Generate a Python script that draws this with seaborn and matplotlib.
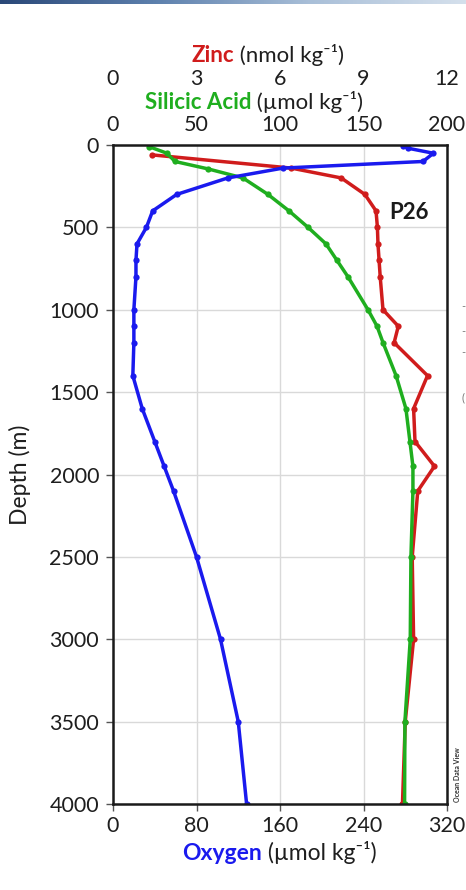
import matplotlib
matplotlib.use("Agg")
import matplotlib.pyplot as plt
import numpy as np
import seaborn as sns
from matplotlib.colors import LinearSegmentedColormap
from matplotlib.offsetbox import TextArea, HPacker, AnchoredOffsetbox

# ---- Station P26 profiles -------------------------------------------------
oxy_depth = [5, 20, 50, 100, 140, 200, 300, 400, 500, 600, 700, 800, 1000,
             1100, 1200, 1400, 1600, 1800, 1950, 2100, 2500, 3000, 3500, 4000]
oxygen = [278, 283, 307, 297, 163, 110, 61, 38, 32, 23, 22, 22, 20,
          20, 20, 19, 28, 40, 49, 58, 80, 103, 120, 128]

si_depth = [10, 50, 100, 145, 200, 300, 400, 500, 600, 700, 800, 1000,
            1100, 1200, 1400, 1600, 1800, 1950, 2100, 2500, 3000, 3500, 4000]
silicic = [21.6, 32.3, 37.1, 56.9, 77.8, 92.8, 105.4, 116.8, 127.5, 134.1,
           140.7, 152.7, 158.1, 161.7, 169.5, 175.4, 177.8, 179.6, 179.6,
           178.4, 178.0, 174.8, 174.6]

zn_depth = [60, 140, 200, 300, 400, 500, 600, 700, 800, 1000, 1100, 1200,
            1400, 1600, 1800, 1950, 2100, 2500, 3000, 3500, 4000]
zinc = [1.4, 6.4, 8.2, 9.05, 9.45, 9.5, 9.52, 9.56, 9.6, 9.7, 10.25, 10.1,
        11.3, 10.8, 10.85, 11.55, 10.95, 10.75, 10.8, 10.5, 10.4]

depth_ticks = [0, 500, 1000, 1500, 2000, 2500, 3000, 3500, 4000]
oxy_ticks = [0, 80, 160, 240, 320]
si_ticks = [0, 50, 100, 150, 200]
zn_ticks = [0, 3, 6, 9, 12]

station = "P26"

RED = "#d01c1c"
GREEN = "#1fae1f"
BLUE = "#1a1aee"
INK = "#1e1e1e"

sns.set_style("white")
plt.rcParams["font.family"] = ["Lato", "DejaVu Sans"]

W, H = 466, 890
fig = plt.figure(figsize=(W / 100, H / 100), dpi=100)
fig.patch.set_facecolor("white")


def fx(px):
    return px / W


def fy(py):
    return 1 - py / H


# slide header strip
strip = fig.add_axes([0, fy(4), 1, 4 / H])
strip_cmap = LinearSegmentedColormap.from_list(
    "strip", ["#2a4878", "#5d80ad", "#a9bfd8", "#d5e0ec"])
strip.imshow(np.linspace(0, 1, 256)[None, :], aspect="auto", cmap=strip_cmap)
strip.set_axis_off()

# three x scales sharing one depth axis
ax_zn = fig.add_axes([fx(113), fy(804), (447 - 113) / W, (804 - 145) / H])
ax_si = ax_zn.twiny()
ax_o2 = ax_zn.twiny()
ax_zn.set_zorder(1)
ax_si.set_zorder(2)
ax_o2.set_zorder(3)
ax_zn.patch.set_facecolor("white")
ax_si.patch.set_visible(False)
ax_o2.patch.set_visible(False)

line_kw = dict(marker="o", markersize=4.5, markeredgewidth=0, linewidth=2.5,
               sort=False, estimator=None, orient="y")
sns.lineplot(x=zinc, y=zn_depth, color=RED, ax=ax_zn, **line_kw)
sns.lineplot(x=silicic, y=si_depth, color=GREEN, ax=ax_si, **line_kw)
sns.lineplot(x=oxygen, y=oxy_depth, color=BLUE, ax=ax_o2, **line_kw)

ax_zn.set_xlim(0, 12)
ax_si.set_xlim(0, 200)
ax_o2.set_xlim(0, 320)
ax_zn.set_ylim(4000, 0)
for a in (ax_zn, ax_si, ax_o2):
    a.set_xlabel("")
    a.set_ylabel("")

tick_font = dict(fontsize=15.5, color=INK)

# depth axis + grid on the bottom-most axes
ax_zn.set_yticks(depth_ticks)
ax_zn.set_yticklabels([str(d) for d in depth_ticks], **tick_font)
ax_zn.tick_params(axis="y", left=True, direction="out", length=5, width=1,
                  color="#555555", pad=5)
ax_zn.grid(True, color="#d9d9d9", linewidth=1)

# zinc scale, top outer row
ax_zn.xaxis.set_ticks_position("top")
ax_zn.spines["top"].set_position(("outward", 31))
ax_zn.set_xticks(zn_ticks)
ax_zn.set_xticklabels([str(t) for t in zn_ticks], **tick_font)
ax_zn.tick_params(axis="x", top=True, bottom=False, length=0, pad=9)
for s in ax_zn.spines.values():
    s.set_visible(False)

# silicic acid scale, top inner row
ax_si.xaxis.set_ticks_position("top")
ax_si.set_xticks(si_ticks)
ax_si.set_xticklabels([str(t) for t in si_ticks], **tick_font)
ax_si.tick_params(axis="x", top=True, bottom=False, length=0, pad=7)
for s in ax_si.spines.values():
    s.set_visible(False)

# oxygen scale, bottom
ax_o2.xaxis.set_ticks_position("bottom")
ax_o2.set_xticks(oxy_ticks)
ax_o2.set_xticklabels([str(t) for t in oxy_ticks], **tick_font)
ax_o2.tick_params(axis="x", bottom=True, top=False, direction="out", length=5,
                  width=1, color="#555555", pad=4)
for s in ax_o2.spines.values():
    s.set_visible(True)
    s.set_color("#1a1a1a")
    s.set_linewidth(1.8)

ax_zn.set_ylabel("Depth (m)", fontsize=16.5, color=INK)
ax_zn.yaxis.set_label_coords(-0.245, 0.5)


def two_tone_label(word, color, rest, cx, cy, size=16):
    parts = [TextArea(word, textprops=dict(color=color, fontsize=size,
                                           fontweight="bold")),
             TextArea(rest, textprops=dict(color=INK, fontsize=size))]
    box = HPacker(children=parts, align="baseline", pad=0, sep=0)
    anchored = AnchoredOffsetbox(loc="center", child=box, pad=0, borderpad=0,
                                 frameon=False, bbox_to_anchor=(fx(cx), fy(cy)),
                                 bbox_transform=fig.transFigure)
    fig.add_artist(anchored)


two_tone_label("Zinc", RED, " (nmol kg\u207b\u00b9)", 268, 55)
two_tone_label("Silicic Acid", GREEN, " (\u00b5mol kg\u207b\u00b9)", 254, 102)
two_tone_label("Oxygen", BLUE, " (\u00b5mol kg\u207b\u00b9)", 279, 852,
               size=16.5)

ax_o2.text((389 - 113) / 334, 1 - (212 - 145) / 659, station,
           transform=ax_o2.transAxes, fontsize=16, fontweight="bold",
           color="#1a1a1a", ha="left", va="center")

fig.text(fx(457), fy(775), "Ocean Data View", rotation=90, fontsize=5,
         fontweight="bold", color="#333333", ha="center", va="center")

for py in (307, 332, 353):
    fig.text(fx(463), fy(py), "-", fontsize=8, color="#777777",
             ha="center", va="center")
fig.text(fx(463), fy(398), "(", fontsize=8, color="#777777",
         ha="center", va="center")

fig.savefig("out.png", dpi=100)
